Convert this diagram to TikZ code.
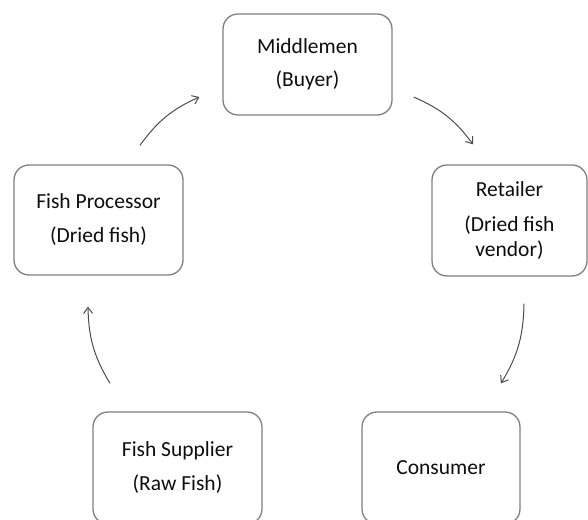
\documentclass[tikz,border=0pt]{standalone}
\usepackage{fontspec}
\setmainfont{Carlito}
\usetikzlibrary{arrows.meta}

\begin{document}
\begin{tikzpicture}[x=1pt, y=1pt, >={Straight Barb[length=6pt,width=9pt]},
    stage/.style={draw=black!50, line width=1.3pt, rounded corners=15pt,
        align=center, inner sep=0pt, text=black!95,
        font=\fontsize{21.5}{25}\selectfont},
    flow/.style={->, line width=1pt, black!70}]
    \useasboundingbox (0,0) rectangle (588,519);

    \node[stage, minimum width=169pt, minimum height=101pt] (mid) at (307.5,454.5) {Middlemen\\[8pt](Buyer)};
    \node[stage, minimum width=155pt, minimum height=111pt] (ret) at (509.5,298.5) {Retailer\\[10pt](Dried fish\\vendor)};
    \node[stage, minimum width=158pt, minimum height=112pt] (con) at (441,51) {Consumer};
    \node[stage, minimum width=169pt, minimum height=112pt] (sup) at (177.5,51) {Fish Supplier\\[9pt](Raw Fish)};
    \node[stage, minimum width=169pt, minimum height=110pt] (proc) at (98.5,299) {Fish Processor\\[9pt](Dried fish)};

    \draw[flow] ([shift={(41.5,19)}]proc.north) to[bend left=15] ([shift={(-23,-32.5)}]mid.west);
    \draw[flow] ([shift={(21,-32.5)}]mid.east) to[bend left=15] ([shift={(-36.5,20)}]ret.north);
    \draw[flow] ([shift={(14.5,-27)}]ret.south) to[bend left=15] ([shift={(60,28)}]con.north);
    \draw[flow] ([shift={(-67.5,28)}]sup.north) to[bend left=15] ([shift={(-10.5,-31)}]proc.south);
\end{tikzpicture}
\end{document}
